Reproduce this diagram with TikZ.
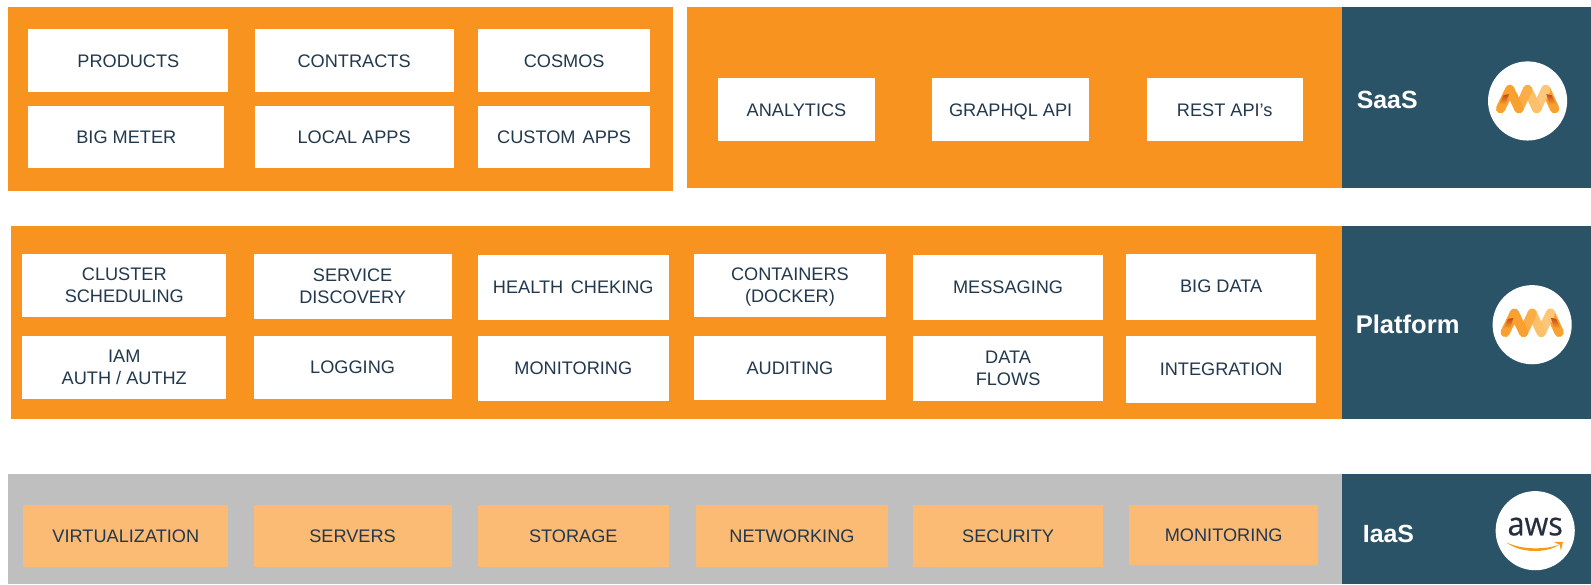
\documentclass[tikz,border=0pt]{standalone}
\usepackage{fontspec}
\setmainfont{Liberation Sans}
\newfontfamily\awsfont[FakeBold=0.5]{Open Sans}
\definecolor{orangeband}{HTML}{F99320}
\definecolor{grayband}{HTML}{BFBFBF}
\definecolor{darkband}{HTML}{2B5367}
\definecolor{boxtext}{HTML}{22384D}
\definecolor{softbox}{HTML}{FBBB74}
\definecolor{lgA}{HTML}{F9A02E}
\definecolor{lgB}{HTML}{FBAE48}
\definecolor{lgC}{HTML}{FDC678}
\definecolor{lgD}{HTML}{C4491A}
\definecolor{awstext}{HTML}{252F3E}
\definecolor{awssmile}{HTML}{F79A14}
\tikzset{
  band/.style={fill=orangeband,draw=none},
  graybandst/.style={fill=grayband,draw=none},
  darkst/.style={fill=darkband,draw=none},
  itembox/.style={fill=white,draw=none,inner sep=0pt,align=center,text=boxtext,
    font=\fontsize{17.9}{21.5}\selectfont},
  softitem/.style={itembox,fill=softbox},
  layerlabel/.style={text=white,inner sep=0pt,anchor=west,font=\fontsize{24.5}{28}\selectfont\bfseries},
  logodisc/.style={circle,fill=white,draw=none,inner sep=0pt,minimum size=78pt},
  ribbon/.style={line width=9.2pt,line cap=round,line join=round}
}
% name, x1, y1, x2, y2, style, text
\newcommand{\bx}[7]{\node[#6,minimum width={(#4)-(#2)},minimum height={(#5)-(#3)}] (#1) at ({((#2)+(#4))/2},{((#3)+(#5))/2}) {#7};}
\newcommand{\lowered}[1]{\raisebox{-0.7pt}[12.8pt][0pt]{#1}}
\newcommand{\mlogo}[3]{%
  \node[logodisc] (#1) at (#2,#3) {};
  \begin{scope}[shift={(#2,#3)}]
    \draw[ribbon,lgA] (18,-11.3) -- (26.6,7.6);
    \draw[ribbon,lgC] (9,7.6) -- (18,-11.3);
    \draw[ribbon,lgC!70!lgB] (0,-11.3) -- (9,7.6);
    \draw[ribbon,lgB] (-8.5,7.6) -- (0,-11.3);
    \draw[ribbon,lgA] (-26.6,7.6) -- (-17.5,-11.3) -- (-8.5,7.6);
    \shade[top color=lgD,bottom color=lgA] (-18.5,-6.7) -- (-21.5,3) -- (-28,3.3) -- (-23.7,-5.7) -- cycle;
    \shade[top color=lgD,bottom color=lgA] (18.5,-6.7) -- (21.5,3) -- (28,3.3) -- (23.7,-5.7) -- cycle;
  \end{scope}}
\begin{document}
\begin{tikzpicture}[x=1pt,y=-1pt]
\useasboundingbox (0,0) rectangle (1568,575.6);
% SaaS
\bx{saasL}{8}{7}{663}{188}{band}{}
\bx{saasR}{677}{7}{1324}{185}{band}{}
\bx{saasD}{1323}{7}{1568}{185}{darkst}{}
\bx{products}{28}{29}{225}{91}{itembox}{PRODUCTS}
\bx{contracts}{251}{29}{447}{91}{itembox}{CONTRACTS}
\bx{cosmos}{471}{29}{641}{91}{itembox}{COSMOS}
\bx{bigmeter}{28}{104}{221}{166}{itembox}{BIG METER}
\bx{localapps}{251}{104}{447}{166}{itembox}{LOCAL APPS}
\bx{customapps}{471}{104}{641}{166}{itembox}{CUSTOM\hspace{2pt} APPS}
\bx{analytics}{708}{77}{862}{139}{itembox}{\lowered{ANALYTICS}}
\bx{graphql}{919}{77}{1073}{139}{itembox}{\lowered{GRAPHQL API}}
\bx{rest}{1130}{77}{1284}{139}{itembox}{\lowered{REST API’s}}
\node[layerlabel] (saaslabel) at (1337,98.5) {SaaS};
\mlogo{saaslogo}{1505.5}{99.5}
% Platform
\bx{platL}{11}{223}{1324}{413}{band}{}
\bx{platD}{1323}{223}{1568}{413}{darkst}{}
\bx{cluster}{22}{250}{223}{312}{itembox}{CLUSTER\\SCHEDULING}
\bx{service}{250}{250}{445}{314}{itembox}{SERVICE\\DISCOVERY}
\bx{health}{471}{251}{659}{315}{itembox}{HEALTH\hspace{2.5pt} CHEKING}
\bx{containers}{684}{250}{873}{312}{itembox}{CONTAINERS\\\smash{(DOCKER)}}
\bx{messaging}{900}{251}{1087}{315}{itembox}{MESSAGING}
\bx{bigdata}{1110}{250}{1297}{315}{itembox}{BIG DATA}
\bx{iam}{22}{331}{223}{393}{itembox}{IAM\\AUTH / AUTHZ}
\bx{logging}{250}{331}{445}{393}{itembox}{LOGGING}
\bx{monitoringA}{471}{331}{659}{395}{itembox}{MONITORING}
\bx{auditing}{684}{331}{873}{394}{itembox}{AUDITING}
\bx{dataflows}{900}{331}{1087}{395}{itembox}{DATA\\FLOWS}
\bx{integration}{1110}{331}{1297}{397}{itembox}{INTEGRATION}
\node[layerlabel,font=\fontsize{25.2}{28}\selectfont\bfseries] (platlabel) at (1336,320) {Platform};
\mlogo{platlogo}{1510}{320}
% IaaS
\bx{iaasL}{8}{467}{1324}{575.6}{graybandst}{}
\bx{iaasD}{1323}{467}{1568}{575.6}{darkst}{}
\bx{virt}{23}{498}{225}{559}{softitem}{VIRTUALIZATION}
\bx{servers}{250}{498}{445}{559}{softitem}{SERVERS}
\bx{storage}{471}{498}{659}{559}{softitem}{STORAGE}
\bx{networking}{686}{498}{875}{559}{softitem}{NETWORKING}
\bx{security}{900}{498}{1087}{559}{softitem}{SECURITY}
\bx{monitoringB}{1113}{498}{1299}{557}{softitem}{MONITORING}
\node[layerlabel] (iaaslabel) at (1343,526) {IaaS};
\node[logodisc] (awslogo) at (1513,523) {};
\node[inner sep=0pt,text=awstext,xscale=.94,transform shape,font=\awsfont\fontsize{32}{32}\selectfont] (awstextnode) at (1513,519) {aws};
\fill[awssmile] (1484.5,534.5) .. controls (1498,545) and (1523,546) .. (1537.5,536.5)
   .. controls (1523,542) and (1500,542) .. (1484.5,534.5) -- cycle;
\fill[awssmile] (1531,534) -- (1540.3,534) -- (1538.3,543) -- (1537.3,536.8) -- cycle;
\end{tikzpicture}
\end{document}
